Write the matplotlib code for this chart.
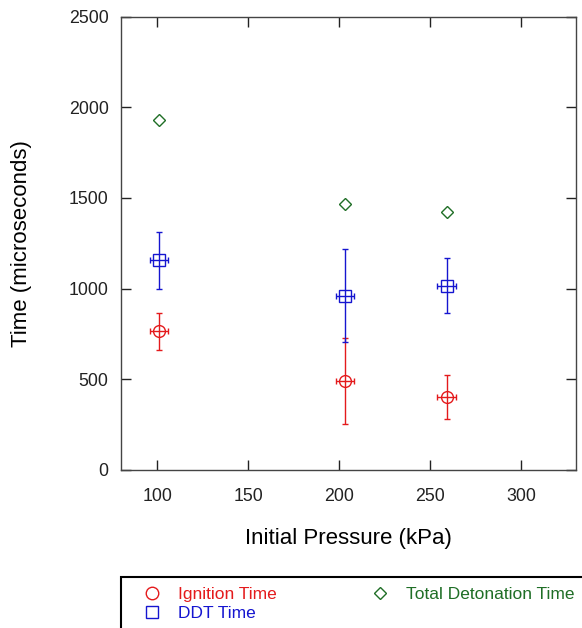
import matplotlib.pyplot as plt
from matplotlib.lines import Line2D
from matplotlib.patches import Rectangle

plt.rcParams['font.family'] = ['Liberation Sans', 'DejaVu Sans']

# data
pressure = [101, 203, 259]
pressure_err = [5, 5, 5]

ignition = [766, 492, 402]
ignition_lo = [660, 255, 279]
ignition_hi = [867, 728, 522]

ddt = [1156, 961, 1014]
ddt_lo = [998, 704, 864]
ddt_hi = [1314, 1218, 1167]

total = [1929, 1465, 1424]

red = '#e41a1c'
blue = '#1515d0'
green = '#1f6e26'

fig = plt.figure(figsize=(5.82, 6.28), dpi=100)
ax = fig.add_axes([0.208, 0.2516, 0.781, 0.722])

def spread(vals, lo, hi):
    return [[v - l for v, l in zip(vals, lo)], [h - v for v, h in zip(vals, hi)]]

ax.errorbar(pressure, ignition, yerr=spread(ignition, ignition_lo, ignition_hi),
            xerr=pressure_err, fmt='o', color=red, mfc='none', mec=red,
            ms=8.5, mew=1.0, elinewidth=1.0, capsize=2.5, zorder=3)
ax.errorbar(pressure, ddt, yerr=spread(ddt, ddt_lo, ddt_hi),
            xerr=pressure_err, fmt='s', color=blue, mfc='none', mec=blue,
            ms=9, mew=1.0, elinewidth=1.0, capsize=2.5, zorder=3)
ax.plot(pressure, total, 'D', color=green, mfc='none', mec=green, ms=6, mew=1.0)

ax.set_xlim(80, 330)
ax.set_ylim(0, 2500)
ax.set_xticks([100, 150, 200, 250, 300])
ax.set_yticks([0, 500, 1000, 1500, 2000, 2500])
ax.tick_params(direction='in', length=7, width=1, top=True, right=True,
               labelsize=12.8, colors='#222222')
ax.tick_params(axis='x', pad=13)
ax.tick_params(axis='y', pad=9)
for s in ax.spines.values():
    s.set_color('#444444')
    s.set_linewidth(1)

ax.set_xlabel('Initial Pressure (kPa)', fontsize=16, va='center')
ax.set_ylabel('Time (microseconds)', fontsize=16, va='center')
ax.xaxis.set_label_coords(0.5, -0.152)
ax.yaxis.set_label_coords(-0.218, 0.5)

# legend box running off the bottom/right edge of the figure
fig.patches.append(Rectangle((121 / 582, -0.05), 0.8, 1 - 577 / 628 + 0.05,
                             transform=fig.transFigure, fill=False,
                             ec='black', lw=1.5, clip_on=False))
handles = [
    Line2D([], [], ls='none', marker='o', mfc='none', mec=red, ms=9, mew=1),
    Line2D([], [], ls='none', marker='s', mfc='none', mec=blue, ms=9, mew=1),
    Line2D([], [], ls='none', marker='D', mfc='none', mec=green, ms=6.5, mew=1),
]
labels = ['Ignition Time', 'DDT Time', 'Total Detonation Time']
leg = fig.legend(handles, labels, ncol=2, frameon=False, fontsize=12.5,
                 loc='upper left', bbox_to_anchor=(0.229, 0.0795),
                 handlelength=1.1, handletextpad=0.95, columnspacing=5.4,
                 labelspacing=0.25, borderpad=0)
for t, c in zip(leg.get_texts(), [red, blue, green]):
    t.set_color(c)

fig.savefig('out.png', dpi=100)
